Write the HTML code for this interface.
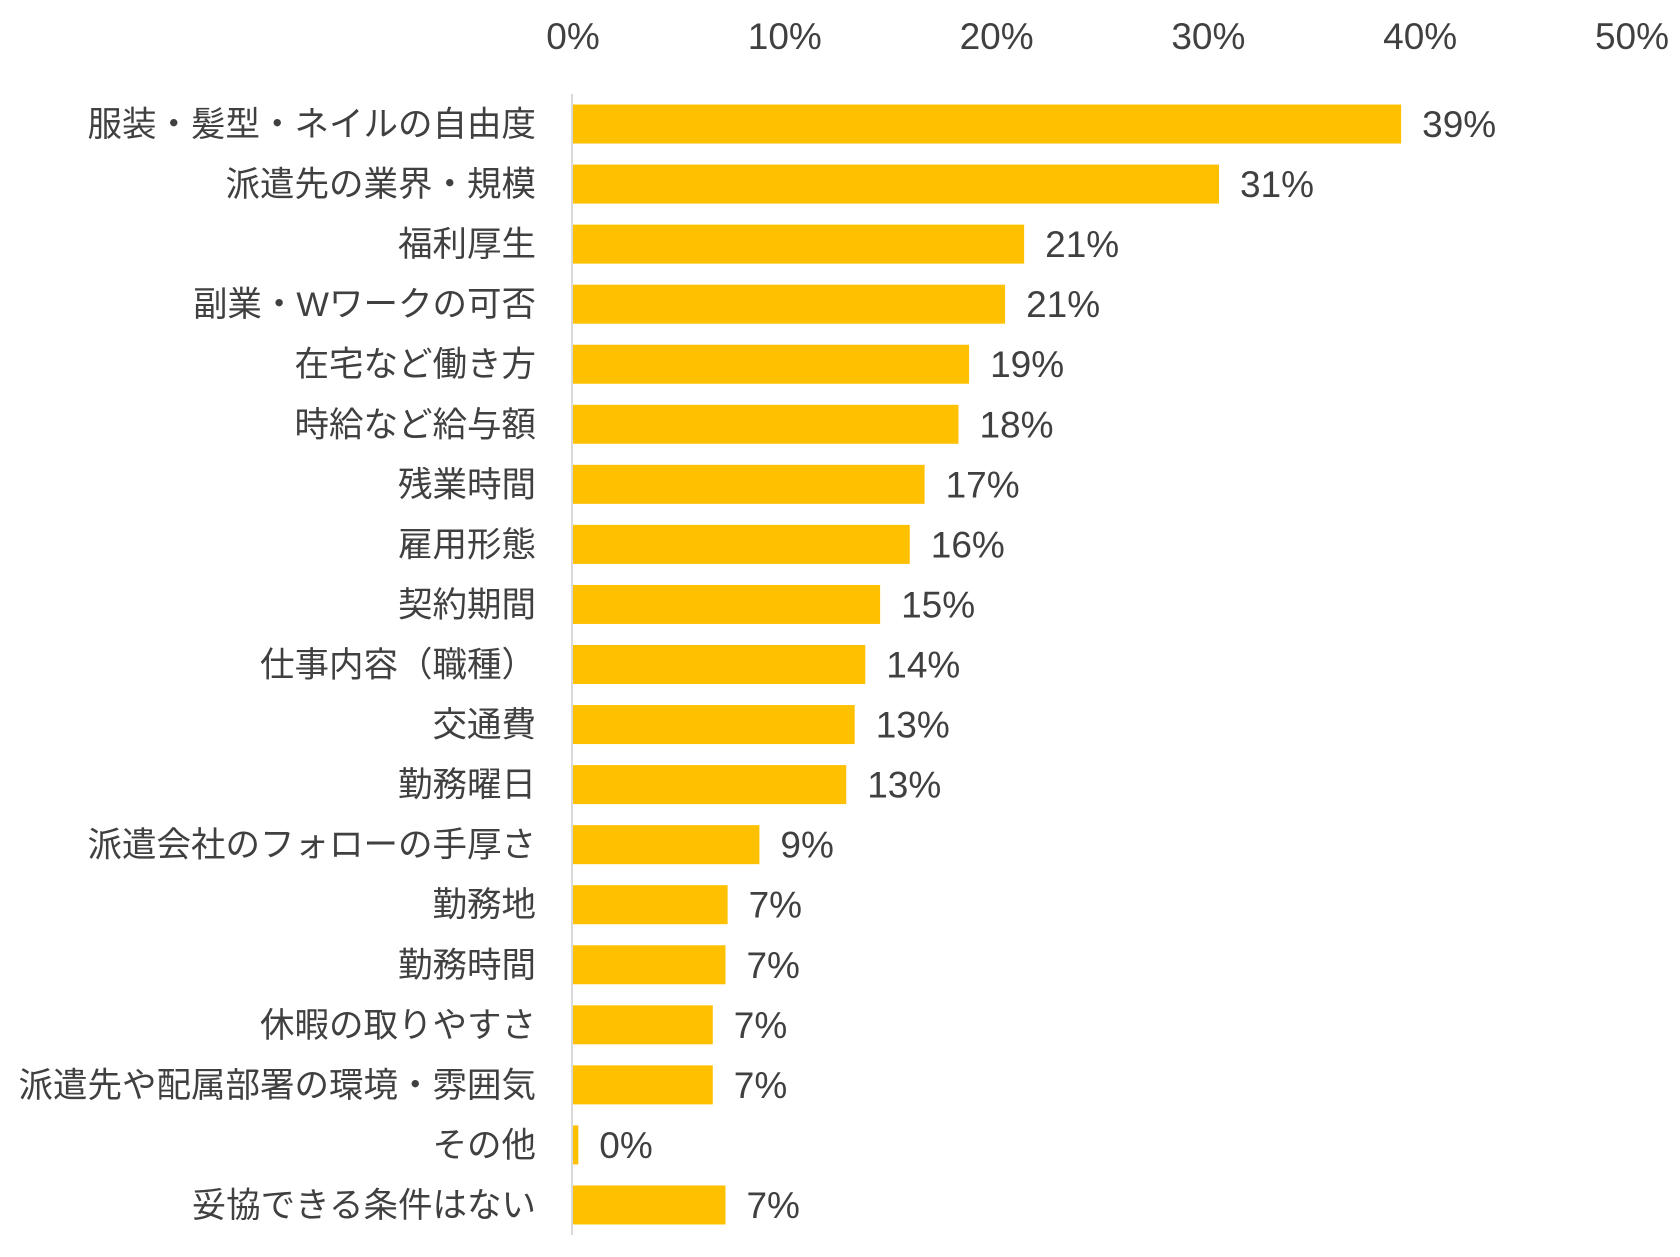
<!DOCTYPE html>
<html><head><meta charset="utf-8"><style>
html,body{margin:0;padding:0;background:#fff;}
svg{display:block;}
text{font-family:"Liberation Sans","Noto Sans CJK JP",sans-serif;fill:#404040;}
</style></head><body>
<svg id="chart" width="1680" height="1257" viewBox="0 0 1680 1257" xmlns="http://www.w3.org/2000/svg"></svg>
<script>
const categories=["服装・髪型・ネイルの自由度","派遣先の業界・規模","福利厚生","副業・Wワークの可否","在宅など働き方","時給など給与額","残業時間","雇用形態","契約期間","仕事内容（職種）","交通費","勤務曜日","派遣会社のフォローの手厚さ","勤務地","勤務時間","休暇の取りやすさ","派遣先や配属部署の環境・雰囲気","その他","妥協できる条件はない"];
const values=[39.1,30.5,21.3,20.4,18.7,18.2,16.6,15.9,14.5,13.8,13.3,12.9,8.8,7.3,7.2,6.6,6.6,0.25,7.2];
const valueLabels=["39%","31%","21%","21%","19%","18%","17%","16%","15%","14%","13%","13%","9%","7%","7%","7%","7%","0%","7%"];
const ticks=[0,10,20,30,40,50];
const tickLabels=["0%","10%","20%","30%","40%","50%"];

const svg=document.getElementById('chart');
const NS='http://www.w3.org/2000/svg';
const x0=573,x1=1632,plotTop=94,plotBottom=1235;
const xs=v=>x0+(v/50)*(x1-x0);
const band=(plotBottom-plotTop)/categories.length;
const yc=i=>plotTop+band*(i+0.5);
function mk(t,a){const e=document.createElementNS(NS,t);for(const k in a)e.setAttribute(k,a[k]);svg.appendChild(e);return e;}
ticks.forEach((t,i)=>{
  const e=mk('text',{x:xs(t),y:49,'text-anchor':'middle','font-size':37});
  e.textContent=tickLabels[i];
  
  
});
categories.forEach((c,i)=>{
  const r=mk('rect',{x:x0,y:yc(i)-19.5,width:Math.max(0,xs(values[i])-x0),height:39,fill:'#FFC000'});
  
  
  const l=mk('text',{x:536,y:yc(i)+12,'text-anchor':'end','font-size':34.5});
  l.textContent=c;
  
  
  const v=mk('text',{x:xs(values[i])+21,y:yc(i)+13,'font-size':37});
  v.textContent=valueLabels[i];
  
  
});
const ax=mk('line',{x1:x0-1,x2:x0-1,y1:plotTop,y2:plotBottom,stroke:'#d9d9d9','stroke-width':2});


</script>
</body></html>
